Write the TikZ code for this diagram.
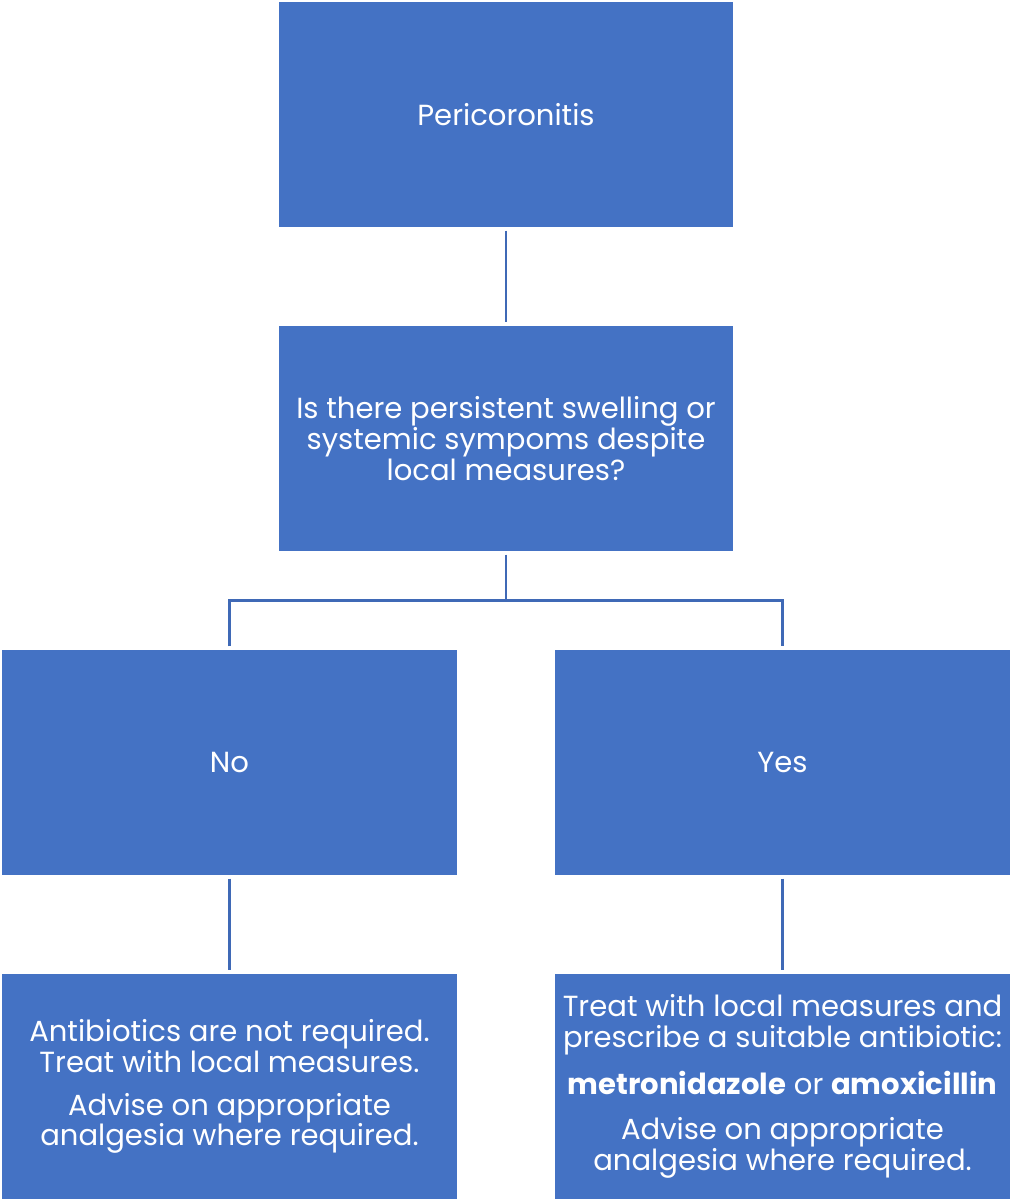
\documentclass[tikz,border=0pt]{standalone}
\usepackage{fontspec}
\setmainfont{Poppins}
\usetikzlibrary{positioning}
\usetikzlibrary{calc}
\definecolor{boxblue}{HTML}{4472C4}
\definecolor{lineblue}{HTML}{3F69B6}
\tikzset{box/.style={fill=boxblue, text=white, minimum width=341pt, minimum height=168.75pt, inner sep=0pt, align=center, font=\fontsize{21.8}{23}\selectfont}}
\tikzset{link/.style={draw=lineblue, line width=2pt, shorten <=2.5pt, shorten >=2.5pt}}

\begin{document}
\begin{tikzpicture}
\useasboundingbox (0,0) rectangle (757.5pt,-900.75pt);
\begin{scope}[on grid]
\node[box] (peri) at (379.5pt, -85.9pt) {Pericoronitis};
\node[box] (q) [below = 243pt of peri] {Is there persistent swelling or\\ systemic sympoms despite\\ local measures?};
\node[box] (no) [below left = 243pt and 207.4pt of q] {No};
\node[box] (yes) [below right = 243pt and 207.4pt of q] {Yes};
\node[box] (notreat) [below = 243pt of no] {Antibiotics are not required.\\ Treat with local measures.\\[9pt] Advise on appropriate\\ analgesia where required.};
\node[box] (treat) [below = 243pt of yes] {Treat with local measures and\\ prescribe a suitable antibiotic:\\[11pt] \textbf{metronidazole} or \textbf{amoxicillin}\\[11pt] Advise on appropriate\\ analgesia where required.};

\coordinate (split) at ($(q.south)!0.5!(no.north)$);
\draw[link] (peri) -- (q);
\draw[link, shorten >=0pt] (q) -- (q.south |- split);
\draw[link] (no) |- (split) -| (yes);
\draw[link] (no) -- (notreat);
\draw[link] (yes) -- (treat);
\end{scope}
\end{tikzpicture}
\end{document}
